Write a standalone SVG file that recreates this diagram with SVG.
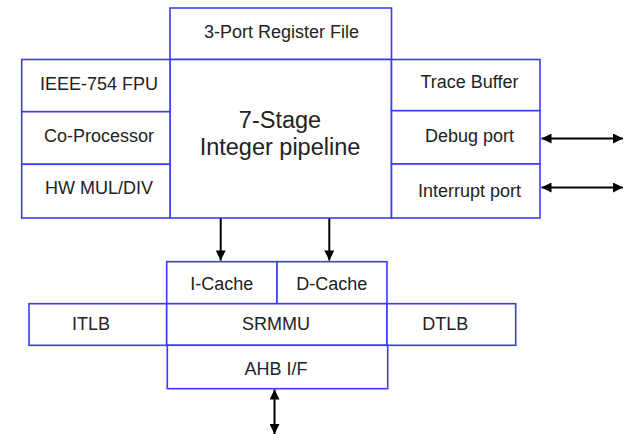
<svg xmlns="http://www.w3.org/2000/svg" width="627" height="434" viewBox="0 0 627 434">
<style>
rect{fill:#fff;stroke:#3b3bff;stroke-width:1.6}
text{font-family:"Liberation Sans",Arial,sans-serif;font-size:18px;fill:#222;text-anchor:middle}
.big{font-size:23.5px}
.c{stroke:#000;stroke-width:2;fill:none}
</style>
<defs>
<marker id="ah" viewBox="0 0 10 10" refX="10" refY="5" markerWidth="5.5" markerHeight="5" orient="auto-start-reverse" markerUnits="strokeWidth">
<path d="M0,0 L10,5 L0,10 z" fill="#000"/>
</marker>
</defs>
<g id="regfile"><rect x="170" y="8" width="221.5" height="51.5"/><text x="281.5" y="37.5">3-Port Register File</text></g>
<g id="pipeline"><rect x="170" y="59.5" width="221.5" height="158.5"/><text class="big" x="280" y="128">7-Stage</text><text class="big" x="280" y="155">Integer pipeline</text></g>
<g id="fpu"><rect x="21.7" y="59.5" width="148.3" height="52.2"/><text x="99" y="90">IEEE-754 FPU</text></g>
<g id="coproc"><rect x="21.7" y="111.7" width="148.3" height="52.6"/><text x="99" y="142">Co-Processor</text></g>
<g id="muldiv"><rect x="21.7" y="164.3" width="148.3" height="53.7"/><text x="99" y="194">HW MUL/DIV</text></g>
<g id="trace"><rect x="391.5" y="59.5" width="148.5" height="51.2"/><text x="469.5" y="88">Trace Buffer</text></g>
<g id="debug"><rect x="391.5" y="110.7" width="148.5" height="53.3"/><text x="469.5" y="142">Debug port</text></g>
<g id="interrupt"><rect x="391.5" y="164" width="148.5" height="54"/><text x="469.5" y="197">Interrupt port</text></g>
<g id="icache"><rect x="166.7" y="261.7" width="110.3" height="42"/><text x="221.7" y="290">I-Cache</text></g>
<g id="dcache"><rect x="277" y="261.7" width="110" height="42"/><text x="331.7" y="290">D-Cache</text></g>
<g id="itlb"><rect x="29" y="303.7" width="137.7" height="41.6"/><text x="91" y="330">ITLB</text></g>
<g id="srmmu"><rect x="166.7" y="303.7" width="220.3" height="41.6"/><text x="276" y="330">SRMMU</text></g>
<g id="dtlb"><rect x="387" y="303.7" width="128.7" height="41.6"/><text x="445.3" y="330">DTLB</text></g>
<g id="ahb"><rect x="167.3" y="345.3" width="220.4" height="43.4"/><text x="276" y="375">AHB I/F</text></g>
<g id="connectors">
<line class="c" x1="220.7" y1="218.5" x2="220.7" y2="260.5" marker-end="url(#ah)"/>
<line class="c" x1="329.3" y1="218.5" x2="329.3" y2="260.5" marker-end="url(#ah)"/>
<line class="c" x1="541.5" y1="138.5" x2="623" y2="138.5" marker-start="url(#ah)" marker-end="url(#ah)"/>
<line class="c" x1="541.5" y1="187.5" x2="623" y2="187.5" marker-start="url(#ah)" marker-end="url(#ah)"/>
<line class="c" x1="274.5" y1="389.5" x2="274.5" y2="434" marker-start="url(#ah)" marker-end="url(#ah)"/>
</g>
</svg>
